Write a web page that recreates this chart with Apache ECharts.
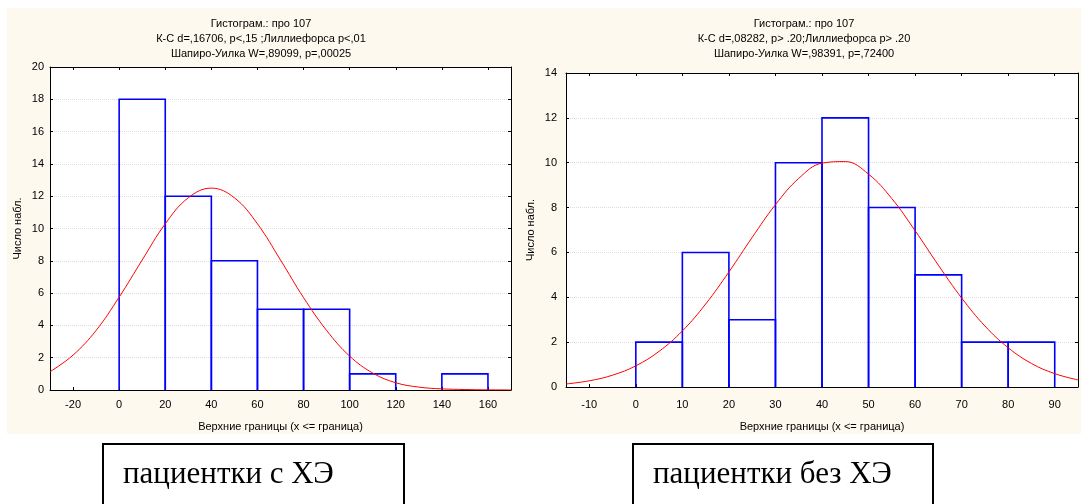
<!DOCTYPE html>
<html>
<head>
<meta charset="utf-8">
<script src="https://cdn.jsdelivr.net/npm/echarts@6/dist/echarts.min.js"></script>
<style>
html,body{margin:0;padding:0;background:#fff;}
#c{width:1081px;height:504px;}
</style>
</head>
<body>
<div id="c"></div>
<script>
// ---- data ----
const leftBinStarts = [0, 20, 40, 60, 80, 100, 120, 140];
const leftBinWidth = 20;
const leftCounts = [18, 12, 8, 5, 5, 1, 0, 1];
const leftCurveX = [-30, -20, -10, 0, 10, 20, 30, 40, 50, 60, 70, 80, 90, 100, 110, 120, 130, 140, 150, 160, 170];
const leftCurveY = [1.13, 2.16, 3.69, 5.75, 8.05, 10.29, 11.9, 12.5, 11.9, 10.29, 8.05, 5.72, 3.69, 2.1, 1.05, 0.45, 0.18, 0.07, 0.03, 0.01, 0.003];
const leftXTicks = [-20, 0, 20, 40, 60, 80, 100, 120, 140, 160];

const rightBinStarts = [0, 10, 20, 30, 40, 50, 60, 70, 80];
const rightBinWidth = 10;
const rightCounts = [2, 6, 3, 10, 12, 8, 5, 2, 2];
const rightCurveX = [-15, -10, -5, 0, 5, 10, 15, 20, 25, 30, 35, 40, 45, 50, 55, 60, 65, 70, 75, 80, 85, 90, 95];
const rightCurveY = [0.135, 0.276, 0.527, 0.944, 1.59, 2.5, 3.7, 5.13, 6.67, 8.13, 9.3, 9.98, 10.05, 9.49, 8.4, 6.97, 5.43, 3.97, 2.72, 1.75, 1.05, 0.595, 0.315];
const rightXTicks = [-10, 0, 10, 20, 30, 40, 50, 60, 70, 80, 90];

const leftTitle = ['Гистограм.: про 107', 'К-С d=,16706, p<,15 ;Лиллиефорса p<,01', 'Шапиро-Уилка W=,89099, p=,00025'];
const rightTitle = ['Гистограм.: про 107', 'К-С d=,08282, p> .20;Лиллиефорса p> .20', 'Шапиро-Уилка W=,98391, p=,72400'];
const xName = 'Верхние границы (x <= граница)';
const yName = 'Число набл.';
const leftCaption = 'пациентки с ХЭ';
const rightCaption = 'пациентки без ХЭ';

// ---- build ----
const FONT = 'Liberation Sans, Arial, sans-serif';
const chart = echarts.init(document.getElementById('c'));

function binData(starts, w, counts) {
  return starts.map((s, i) => [s, s + w, counts[i]]);
}
function curveData(xs, ys) { return xs.map((x, i) => [x, ys[i]]); }

function renderBar(params, api) {
  const s = api.value(0), e = api.value(1), c = api.value(2);
  if (!c) return null;
  const p0 = api.coord([s, 0]);
  const p1 = api.coord([s, c]);
  const p2 = api.coord([e, c]);
  const p3 = api.coord([e, 0]);
  return {
    type: 'polyline',
    shape: { points: [p0, p1, p2, p3] },
    style: { stroke: '#0000ff', lineWidth: 1.6, fill: null }
  };
}

function xAxes(gi, min, max, ticks, labelMargin, nameGap) {
  return [
    {
      gridIndex: gi, type: 'value', position: 'bottom', min: min, max: max,
      axisLine: { show: true, onZero: false, lineStyle: { color: '#000', width: 1 } },
      axisTick: { show: true, inside: true, length: 3, customValues: ticks, lineStyle: { color: '#000' } },
      axisLabel: { customValues: ticks, color: '#000', fontFamily: FONT, fontSize: 11, margin: labelMargin },
      splitLine: { show: false },
      name: xName, nameLocation: 'middle', nameGap: nameGap,
      nameTextStyle: { color: '#000', fontFamily: FONT, fontSize: 11 }
    },
    {
      gridIndex: gi, type: 'value', position: 'top', min: min, max: max,
      axisLine: { show: true, onZero: false, lineStyle: { color: '#000', width: 1 } },
      axisTick: { show: true, inside: true, length: 3, customValues: ticks, lineStyle: { color: '#000' } },
      axisLabel: { show: false },
      splitLine: { show: false }
    }
  ];
}
function yAxes(gi, max, labelMargin, nameGap) {
  return [
    {
      gridIndex: gi, type: 'value', position: 'left', min: 0, max: max, interval: 2,
      axisLine: { show: true, onZero: false, lineStyle: { color: '#000', width: 1 } },
      axisTick: { show: true, inside: true, length: 3, lineStyle: { color: '#000' } },
      axisLabel: { color: '#000', fontFamily: FONT, fontSize: 11, margin: labelMargin },
      splitLine: { show: true, lineStyle: { color: '#dcdcdc', type: 'dotted', width: 1 } },
      name: yName, nameLocation: 'middle', nameGap: nameGap, nameRotate: 90,
      nameTextStyle: { color: '#000', fontFamily: FONT, fontSize: 11 }
    },
    {
      gridIndex: gi, type: 'value', position: 'right', min: 0, max: max, interval: 2,
      axisLine: { show: true, onZero: false, lineStyle: { color: '#000', width: 1 } },
      axisTick: { show: true, inside: true, length: 3, lineStyle: { color: '#000' } },
      axisLabel: { show: false },
      splitLine: { show: false }
    }
  ];
}

const SERIF = '31px "Liberation Serif", "Times New Roman", serif';

const option = {
  animation: false,
  backgroundColor: '#ffffff',
  graphic: [
    { type: 'rect', shape: { x: 7, y: 8, width: 1074, height: 426 }, style: { fill: '#fdf9ee' }, z: -10, silent: true },
    { type: 'rect', shape: { x: 50, y: 67, width: 461, height: 323 }, style: { fill: '#ffffff' }, z: -9, silent: true },
    { type: 'rect', shape: { x: 566, y: 73, width: 512, height: 314 }, style: { fill: '#ffffff' }, z: -9, silent: true },
    { type: 'text', x: 261, y: 16, style: { text: leftTitle.join('\n'), align: 'center', verticalAlign: 'top', font: '11px ' + FONT, fill: '#000', lineHeight: 15 }, z: 10 },
    { type: 'text', x: 804, y: 16, style: { text: rightTitle.join('\n'), align: 'center', verticalAlign: 'top', font: '11px ' + FONT, fill: '#000', lineHeight: 15 }, z: 10 },
    { type: 'rect', shape: { x: 103, y: 444, width: 301, height: 80 }, style: { fill: '#fff', stroke: '#000', lineWidth: 2 }, z: 10 },
    { type: 'rect', shape: { x: 633, y: 444, width: 300, height: 80 }, style: { fill: '#fff', stroke: '#000', lineWidth: 2 }, z: 10 },
    { type: 'text', x: 123, y: 475, style: { text: leftCaption, align: 'left', verticalAlign: 'middle', font: SERIF, fill: '#000' }, z: 11 },
    { type: 'text', x: 653, y: 475, style: { text: rightCaption, align: 'left', verticalAlign: 'middle', font: SERIF, fill: '#000' }, z: 11 }
  ],
  grid: [
    { left: 50, top: 67, width: 461, height: 323, containLabel: false },
    { left: 566, top: 73, width: 512, height: 314, containLabel: false }
  ],
  xAxis: [].concat(
    xAxes(0, -30, 170, leftXTicks, 9, 31),
    xAxes(1, -15, 95, rightXTicks, 12, 34)
  ),
  yAxis: [].concat(
    yAxes(0, 20, 6, 27),
    yAxes(1, 14, 9, 30)
  ),
  series: [
    { type: 'custom', xAxisIndex: 0, yAxisIndex: 0, data: binData(leftBinStarts, leftBinWidth, leftCounts), renderItem: renderBar, clip: true, z: 2 },
    { type: 'line', xAxisIndex: 0, yAxisIndex: 0, data: curveData(leftCurveX, leftCurveY), smooth: 0.4, showSymbol: false, symbol: 'none', lineStyle: { color: '#ff0000', width: 1 }, clip: true, z: 3 },
    { type: 'custom', xAxisIndex: 2, yAxisIndex: 2, data: binData(rightBinStarts, rightBinWidth, rightCounts), renderItem: renderBar, clip: true, z: 2 },
    { type: 'line', xAxisIndex: 2, yAxisIndex: 2, data: curveData(rightCurveX, rightCurveY), smooth: 0.4, showSymbol: false, symbol: 'none', lineStyle: { color: '#ff0000', width: 1 }, clip: true, z: 3 }
  ]
};
chart.setOption(option);
</script>
</body>
</html>
